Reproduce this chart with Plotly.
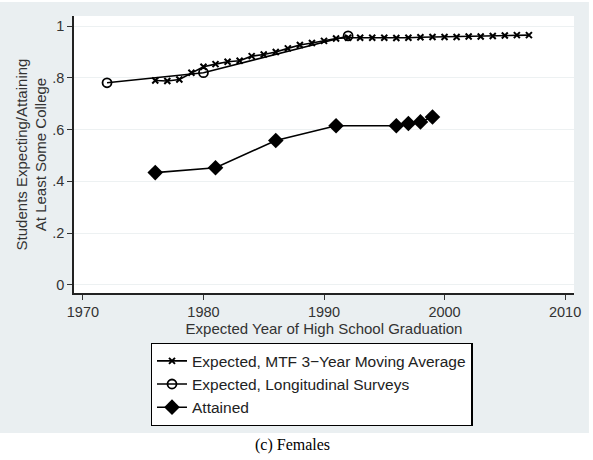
import plotly.graph_objects as go

mtf_years = list(range(1976, 2008))
mtf_vals = [0.790, 0.788, 0.794, 0.820, 0.843, 0.853, 0.862, 0.866, 0.884, 0.890,
            0.900, 0.914, 0.927, 0.935, 0.943, 0.952, 0.955, 0.955, 0.955, 0.955,
            0.954, 0.955, 0.957, 0.958, 0.958, 0.958, 0.960, 0.960, 0.962, 0.964,
            0.965, 0.965]

long_years = [1972, 1980, 1992]
long_vals = [0.781, 0.820, 0.962]

att_years = [1976, 1981, 1986, 1991, 1996, 1997, 1998, 1999]
att_vals = [0.434, 0.453, 0.558, 0.615, 0.615, 0.624, 0.630, 0.649]

x_ticks = [1970, 1980, 1990, 2000, 2010]
y_ticks = [0, 0.2, 0.4, 0.6, 0.8, 1]
y_ticktext = ["0", ".2", ".4", ".6", ".8", "1"]

W, H = 593, 460
L, R, T, B = 74, 17, 16, 167
pw, ph = W - L - R, H - T - B

def px(xp):
    return (xp - L) / pw

def py(yp):
    return (H - B - yp) / ph

fig = go.Figure()
fig.add_trace(go.Scatter(
    x=mtf_years, y=mtf_vals, mode="lines+markers",
    name="Expected, MTF 3\u2212Year Moving Average",
    line=dict(color="black", width=1.6),
    marker=dict(symbol="x-thin", size=6, color="black", line=dict(color="black", width=2))))
fig.add_trace(go.Scatter(
    x=long_years, y=long_vals, mode="lines+markers",
    name="Expected, Longitudinal Surveys",
    line=dict(color="black", width=1.6),
    marker=dict(symbol="circle-open", size=9, color="black", line=dict(color="black", width=1.8))))
fig.add_trace(go.Scatter(
    x=att_years, y=att_vals, mode="lines+markers",
    name="Attained",
    line=dict(color="black", width=1.6),
    marker=dict(symbol="diamond", size=12, color="black")))

font = "Liberation Sans, Arial, sans-serif"
fig.update_layout(
    width=W, height=H,
    margin=dict(l=L, r=R, t=T, b=B),
    paper_bgcolor="#eaeff1",
    plot_bgcolor="white",
    font=dict(family=font, size=14, color="#222"),
    showlegend=True,
    legend=dict(
        x=px(151), y=py(343), xanchor="left", yanchor="top",
        bgcolor="white", bordercolor="black", borderwidth=1.3,
        font=dict(size=15.5, color="#222"),
        tracegroupgap=0,
    ),
    xaxis=dict(
        range=[1969.26, 2010.74], tickvals=x_ticks, ticks="outside", ticklen=5,
        tickcolor="#333", tickwidth=1.2, showgrid=False, zeroline=False,
        showline=True, linecolor="#222", linewidth=1.5,
        tickfont=dict(size=14.5, color="#333"),
        title=dict(text="Expected Year of High School Graduation", standoff=2,
                   font=dict(size=15, color="#333")),
    ),
    yaxis=dict(
        range=[-0.031, 1.039], tickvals=y_ticks, ticktext=y_ticktext,
        ticks="outside", ticklen=5, tickcolor="#333", tickwidth=1.2,
        showgrid=True, gridcolor="#edf1f2", gridwidth=1.2, zeroline=False,
        showline=True, linecolor="#222", linewidth=1.5,
        tickfont=dict(size=14.5, color="#333"),
        title=dict(text="Students Expecting/Attaining<br>At Least Some College",
                   standoff=2, font=dict(size=15, color="#333")),
    ),
    shapes=[
        dict(type="rect", xref="paper", yref="paper",
             x0=px(-5), x1=px(W + 5), y0=py(H + 5), y1=py(433),
             fillcolor="white", line=dict(width=0), layer="below"),
        dict(type="rect", xref="paper", yref="paper",
             x0=px(-5), x1=px(W + 5), y0=py(2), y1=py(-5),
             fillcolor="white", line=dict(width=0), layer="below"),
        dict(type="rect", xref="paper", yref="paper",
             x0=px(591), x1=px(W + 5), y0=py(H + 5), y1=py(-5),
             fillcolor="white", line=dict(width=0), layer="below"),
    ],
    annotations=[
        dict(text="(c) Females", xref="paper", yref="paper",
             x=px(293), y=py(445), xanchor="center", yanchor="middle",
             showarrow=False,
             font=dict(family="Liberation Serif, Times New Roman, serif", size=16, color="black")),
    ],
)

fig.write_html("out.html")
